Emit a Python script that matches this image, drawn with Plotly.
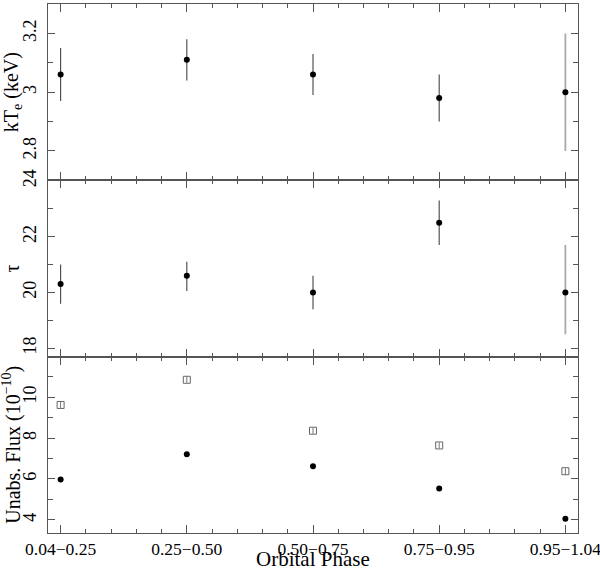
import plotly.graph_objects as go
from plotly.subplots import make_subplots

phases = ["0.04\u22120.25", "0.25\u22120.50", "0.50\u22120.75", "0.75\u22120.95", "0.95\u22121.04"]
xpos = [0, 1, 2, 3, 4]

kte = [3.06, 3.11, 3.06, 2.98, 3.00]
kte_hi = [3.15, 3.18, 3.13, 3.06, 3.20]
kte_lo = [2.97, 3.04, 2.99, 2.90, 2.80]

tau = [20.3, 20.6, 20.0, 22.5, 20.0]
tau_hi = [21.0, 21.1, 20.6, 23.3, 21.7]
tau_lo = [19.6, 20.05, 19.4, 21.7, 18.5]

flux_abs = [5.98, 7.21, 6.62, 5.54, 4.06]
flux_unabs = [9.62, 10.85, 8.36, 7.64, 6.38]
flux_unabs_err = [0.15, 0.15, 0.15, 0.15, 0.15]

FONT = "Liberation Serif, Times New Roman, serif"
AXC = "#555555"

fig = make_subplots(rows=3, cols=1, shared_xaxes=True, vertical_spacing=0)


def add_err(row, vals, hi, lo):
    up = [h - v for h, v in zip(hi, vals)]
    dn = [v - l for l, v in zip(lo, vals)]
    fig.add_trace(go.Scatter(
        x=xpos[:4], y=vals[:4], mode="markers",
        marker=dict(color="black", size=6),
        error_y=dict(type="data", symmetric=False, array=up[:4], arrayminus=dn[:4],
                     color="#444444", thickness=1.1, width=0),
        showlegend=False), row=row, col=1)
    fig.add_trace(go.Scatter(
        x=xpos[4:], y=vals[4:], mode="markers",
        marker=dict(color="black", size=6),
        error_y=dict(type="data", symmetric=False, array=up[4:], arrayminus=dn[4:],
                     color="#aaaaaa", thickness=1.8, width=0),
        showlegend=False), row=row, col=1)


add_err(1, kte, kte_hi, kte_lo)
add_err(2, tau, tau_hi, tau_lo)

fig.add_trace(go.Scatter(
    x=xpos, y=flux_unabs, mode="markers",
    marker=dict(symbol="square-open", color="#666666", size=7, line=dict(width=1)),
    error_y=dict(type="data", array=flux_unabs_err, color="#777777", thickness=1, width=0),
    showlegend=False), row=3, col=1)
fig.add_trace(go.Scatter(
    x=xpos, y=flux_abs, mode="markers",
    marker=dict(color="black", size=6),
    showlegend=False), row=3, col=1)

xcommon = dict(range=[-0.1, 4.1], tickmode="array", tickvals=xpos, ticktext=phases,
               ticks="inside", ticklen=8, tickwidth=1, tickcolor=AXC,
               minor=dict(tickmode="linear", tick0=0, dtick=0.2, ticks="inside", ticklen=4,
                          tickcolor=AXC, tickwidth=1),
               showline=True, linecolor=AXC, linewidth=1, mirror="allticks",
               showgrid=False, zeroline=False, ticklabeloverflow="allow",
               ticklabelstandoff=0, automargin=False,
               tickfont=dict(family=FONT, size=17.5, color="black"))
for r in (1, 2, 3):
    fig.update_xaxes(**xcommon, showticklabels=(r == 3), row=r, col=1)

ycommon = dict(ticks="inside", ticklen=7, tickwidth=1, tickcolor=AXC,
               showline=True, linecolor=AXC, linewidth=1, mirror="allticks",
               showgrid=False, zeroline=False, tickangle=-90, ticklabelstandoff=4,
               automargin=False,
               tickfont=dict(family=FONT, size=18, color="black"))
fig.update_yaxes(**ycommon, range=[2.70, 3.30], tickmode="linear", tick0=2.8, dtick=0.2,
                 minor=dict(tickmode="linear", tick0=2.8, dtick=0.1, ticks="inside", ticklen=5,
                            tickcolor=AXC), row=1, col=1)
fig.update_yaxes(**ycommon, range=[17.7, 24.02], tickmode="linear", tick0=0, dtick=2,
                 minor=dict(tickmode="linear", tick0=0, dtick=1, ticks="inside", ticklen=5,
                            tickcolor=AXC), row=2, col=1)
fig.update_yaxes(**ycommon, range=[3.36, 11.98], tickmode="linear", tick0=0, dtick=2,
                 minor=dict(tickmode="linear", tick0=0, dtick=1, ticks="inside", ticklen=5,
                            tickcolor=AXC), row=3, col=1)

ytitles = ["kT<sub>e</sub> (keV)", "\u03c4", "Unabs. Flux (10<sup>\u221210</sup>)"]
for i, t in enumerate(ytitles):
    dom = fig.layout["yaxis" + ("" if i == 0 else str(i + 1))].domain
    fig.add_annotation(text=t, xref="paper", yref="paper", x=-0.068,
                       y=(dom[0] + dom[1]) / 2, textangle=-90, showarrow=False,
                       xanchor="center", yanchor="middle",
                       font=dict(family=FONT, size=20, color="black"))

fig.add_annotation(text="Orbital Phase", xref="paper", yref="paper", x=0.5, y=-0.050,
                   xanchor="center", yanchor="middle", showarrow=False,
                   font=dict(family=FONT, size=21, color="black"))

fig.update_layout(width=600, height=568, margin=dict(l=48, r=22, t=4, b=35),
                  plot_bgcolor="white", paper_bgcolor="white")

fig.write_html("out.html", config={"displayModeBar": False},
               post_script="document.body.style.margin='0';document.body.style.overflow='hidden';")
